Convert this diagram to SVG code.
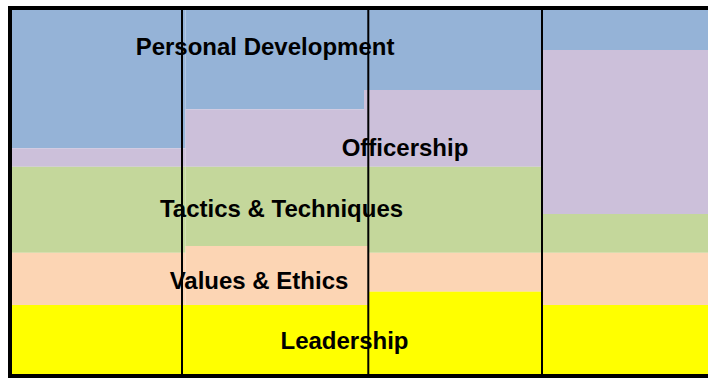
<svg xmlns="http://www.w3.org/2000/svg" width="708" height="378" viewBox="0 0 708 378">
  <style>
    .pd { fill: #95B3D7; }
    .of { fill: #CCC0DA; }
    .tt { fill: #C4D79B; }
    .ve { fill: #FCD5B4; }
    .ld { fill: #FFFF00; }
    .lbl { font-family: "Liberation Sans", Arial, sans-serif; font-weight: bold; font-size: 24px; fill: #000000; text-anchor: middle; }
    .div { stroke: #000000; stroke-width: 2; fill: none; }
    .frame { stroke: #000000; stroke-width: 4; fill: none; }
  </style>
  <rect x="0" y="0" width="708" height="378" fill="#FFFFFF"/>
  <g id="personal-development">
    <rect class="pd" x="12" y="10" width="173.5" height="138.3"/>
    <rect class="pd" x="185.5" y="10" width="178.5" height="99.3"/>
    <rect class="pd" x="364" y="10" width="178" height="80"/>
    <rect class="pd" x="542" y="10" width="166" height="40"/>
    <text class="lbl" x="265" y="55">Personal Development</text>
  </g>
  <g id="officership">
    <rect class="of" x="12" y="148.3" width="173.5" height="18.5"/>
    <rect class="of" x="185.5" y="109.3" width="178.5" height="57.5"/>
    <rect class="of" x="364" y="90" width="178" height="76.8"/>
    <rect class="of" x="542" y="50" width="166" height="164"/>
    <text class="lbl" x="405" y="156">Officership</text>
  </g>
  <g id="tactics-techniques">
    <rect class="tt" x="12" y="166.8" width="173.5" height="86"/>
    <rect class="tt" x="185.5" y="166.8" width="178.5" height="79.2"/>
    <rect class="tt" x="364" y="166.8" width="178" height="86"/>
    <rect class="tt" x="542" y="214" width="166" height="38.8"/>
    <text class="lbl" x="281.5" y="217">Tactics &amp; Techniques</text>
  </g>
  <g id="values-ethics">
    <rect class="ve" x="12" y="252.8" width="173.5" height="52.2"/>
    <rect class="ve" x="185.5" y="246" width="182.5" height="59"/>
    <rect class="ve" x="368" y="252.8" width="174" height="39"/>
    <rect class="ve" x="542" y="252.8" width="166" height="52.2"/>
    <text class="lbl" x="259" y="289">Values &amp; Ethics</text>
  </g>
  <g id="leadership">
    <rect class="ld" x="12" y="305" width="356" height="71"/>
    <rect class="ld" x="368" y="291.7" width="174" height="84.3"/>
    <rect class="ld" x="542" y="305" width="166" height="71"/>
    <text class="lbl" x="344.5" y="349">Leadership</text>
  </g>
  <g id="connectors">
    <line class="div" x1="182" y1="10" x2="182" y2="376"/>
    <line class="div" x1="368.3" y1="10" x2="368.3" y2="376"/>
    <line class="div" x1="542" y1="10" x2="542" y2="376"/>
    <path class="frame" d="M708,8 H10 V376 H708"/>
  </g>
</svg>
